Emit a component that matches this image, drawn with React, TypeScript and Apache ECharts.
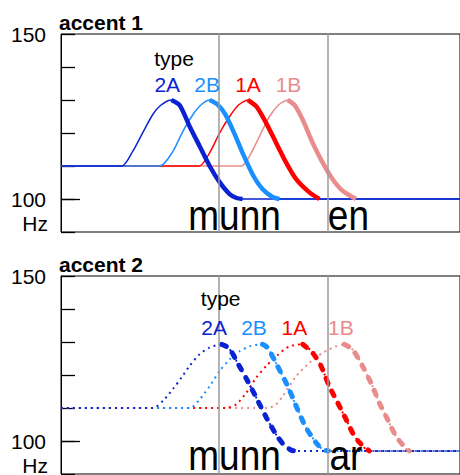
import React, { useEffect, useRef } from "react";
import * as echarts from "echarts";

// ---- data (x: time units from left edge of plot, y: Hz) ----
const types = ["2A", "2B", "1A", "1B"];
const boundaries = [158, 267];

const accent1_2A_rise = [[0, 110], [60.7, 110], [72, 114.5], [82, 120.1], [92, 125.6], [100, 128.4], [110.7, 130]];
const accent1_2A_fall = [[110.7, 130], [119, 128.4], [129, 122], [139, 116], [149, 110], [159, 105.1], [169, 101.5], [176, 100.3], [182, 100]];
const accent1_2B_rise = [[0, 110], [99, 110], [112.3, 114.5], [122.3, 120.6], [132.3, 125.6], [140, 128.4], [149, 130]];
const accent1_2B_fall = [[149, 130], [157, 128.6], [165, 125.5], [175, 119], [182, 114], [192, 107.5], [202, 103], [212, 100.6], [219, 100]];
const accent1_1A_rise = [[0, 110], [138.3, 110], [149, 114], [159, 120], [169, 125], [178, 128.5], [187.3, 130]];
const accent1_1A_fall = [[187.3, 130], [196, 128], [205.7, 123], [215.7, 117], [225.7, 111], [235.7, 106], [249, 102], [259, 100]];
const accent1_1B_rise = [[0, 110], [180.7, 110], [189, 113], [199, 119], [209, 125], [218, 128.5], [227.3, 130]];
const accent1_1B_fall = [[227.3, 130], [234, 128.5], [242.3, 124], [252.3, 117], [262.3, 111], [272.3, 106], [282.3, 102.5], [295.7, 100]];
const accent1_tail = [400, 100];

const accent2_2A_rise = [[0, 110], [92.3, 110], [102.3, 112.2], [112.3, 115.8], [120.7, 119.2], [129, 122.8], [139, 126.3], [149, 128.3], [161, 129.3]];
const accent2_2A_fall = [[161, 129.3], [166, 128.6], [171, 127], [176, 124.2], [186, 118.8], [196, 113], [206, 107], [216, 101.8], [223, 99], [231, 97.2], [236, 97]];
const accent2_2B_rise = [[0, 110], [129, 110], [139, 112.6], [149, 116.6], [159, 121.2], [169, 124.7], [179, 127.2], [189, 128.7], [202, 129.3]];
const accent2_2B_fall = [[202, 129.3], [207, 128.3], [215.7, 123.5], [227.3, 116.6], [235.7, 110.6], [245.7, 104], [255.7, 99.5], [262, 97.5], [268, 97]];
const accent2_1A_rise = [[0, 110], [165.7, 110], [175.7, 111.1], [185.7, 114.6], [195.7, 119.2], [205.7, 122.7], [217, 126], [229, 128.7], [242.3, 129.3]];
const accent2_1A_fall = [[242.3, 129.3], [252.3, 126.7], [260.7, 122.7], [269, 116.6], [277.3, 111.6], [285.7, 106.6], [294, 101.5], [300, 99.3], [309, 97]];
const accent2_1B_rise = [[0, 110], [207, 110], [215.7, 111.1], [222.3, 113.6], [235.7, 119.6], [249, 123.7], [262.3, 126.7], [275, 128.6], [284, 129.3]];
const accent2_1B_fall = [[284, 129.3], [292.3, 127.7], [302.3, 122.7], [312.3, 116.6], [319, 111.6], [327.3, 106.6], [335.7, 101.5], [343, 98.7], [349, 97]];
const accent2_tail = [400, 97];

// label positions (data coords)
const accent1TypeLabelX = [107, 147, 188, 228.6];
const accent1TypeLabelY = 134.4;
const accent1TypeTitle = [94, 142.5];
const accent2TypeLabelX = [154, 194, 234.4, 281.1];
const accent2TypeLabelY = 134.3;
const accent2TypeTitle = [140.7, 142.9];

const accent1Segments = ["munn", "en"];
const accent1SegmentX = [127.6, 267.5];
const accent1SegmentY = 95.1;
const accent2Segments = ["munn", "ar"];
const accent2SegmentX = [127.6, 269.2];
const accent2SegmentY = 95.7;

const yLabelValues = [100, 150];
const unitLabel = "Hz";
const unitLabelY = 92.5;

const COLORS: Record<string, string> = {
  "2A": "#0a22d2",
  "2B": "#1c8fff",
  "1A": "#ff0000",
  "1B": "#e88c8c",
};
const FONT = "'Liberation Sans', Arial, sans-serif";

const panels = [
  {
    title: "accent 1",
    top: 34,
    rise: { "2A": accent1_2A_rise, "2B": accent1_2B_rise, "1A": accent1_1A_rise, "1B": accent1_1B_rise },
    fall: { "2A": accent1_2A_fall, "2B": accent1_2B_fall, "1A": accent1_1A_fall, "1B": accent1_1B_fall },
    tail: accent1_tail,
    labelX: accent1TypeLabelX,
    labelY: accent1TypeLabelY,
    typeTitle: accent1TypeTitle,
    segs: accent1Segments,
    segX: accent1SegmentX,
    segY: accent1SegmentY,
    thin: { width: 1.5, type: "solid" as any },
    thick: { width: 4.5, type: "solid" as any },
  },
  {
    title: "accent 2",
    top: 276,
    rise: { "2A": accent2_2A_rise, "2B": accent2_2B_rise, "1A": accent2_1A_rise, "1B": accent2_1B_rise },
    fall: { "2A": accent2_2A_fall, "2B": accent2_2B_fall, "1A": accent2_1A_fall, "1B": accent2_1B_fall },
    tail: accent2_tail,
    labelX: accent2TypeLabelX,
    labelY: accent2TypeLabelY,
    typeTitle: accent2TypeTitle,
    segs: accent2Segments,
    segX: accent2SegmentX,
    segY: accent2SegmentY,
    thin: { width: 2, type: [2, 4] as any },
    thick: { width: 5, type: [5, 9] as any, cap: "round" },
  },
];

export default function App() {
  const ref = useRef<HTMLDivElement>(null);
  useEffect(() => {
    if (!ref.current) return;
    const chart = echarts.init(ref.current, null, { renderer: "svg" });
    const grids: any[] = [];
    const xAxes: any[] = [];
    const yAxes: any[] = [];
    const series: any[] = [];
    const titles: any[] = [];
    const order = ["1B", "1A", "2B", "2A"];

    panels.forEach((p, pi) => {
      grids.push({
        left: 61, top: p.top, width: 400, height: 198,
        show: true, borderColor: "#000", borderWidth: 1, backgroundColor: "transparent",
      });
      xAxes.push({
        gridIndex: pi, type: "value", min: 0, max: 400,
        axisLine: { show: false }, axisTick: { show: false }, axisLabel: { show: false }, splitLine: { show: false },
      });
      yAxes.push({
        gridIndex: pi, type: "value", min: 90, max: 150, interval: 10, position: "left",
        axisLine: { show: true, lineStyle: { color: "#000", width: 1 } },
        axisTick: { show: true, inside: true, length: 14, lineStyle: { color: "#000", width: 1.3 } },
        axisLabel: {
          color: "#000", fontSize: 21, fontFamily: FONT, margin: 15,
          formatter: (v: number) => (yLabelValues.includes(v) ? String(v) : ""),
        },
        splitLine: { show: false },
      });
      yAxes.push({
        gridIndex: pi, type: "value", min: 90, max: 150, interval: 10, position: "left",
        axisLine: { show: false },
        axisTick: { show: true, inside: true, length: 19, customValues: [100], lineStyle: { color: "#000", width: 1.3 } },
        axisLabel: { show: false },
        splitLine: { show: false },
      });
      const yi = pi * 2;
      titles.push({
        text: p.title, left: 59, top: p.top - 22, padding: 0,
        textStyle: { fontSize: 21, fontWeight: "bold", color: "#000", fontFamily: FONT },
      });

      order.forEach((t, k) => {
        const rise = (p.rise as any)[t];
        const fall = (p.fall as any)[t];
        series.push({
          type: "line", xAxisIndex: pi, yAxisIndex: yi, showSymbol: false, smooth: 0.25,
          data: [...rise, ...fall.slice(1), p.tail],
          lineStyle: { color: COLORS[t], width: p.thin.width, type: p.thin.type },
          silent: true, z: 2,
          markLine: k === 0 ? {
            silent: true, symbol: "none", label: { show: false },
            lineStyle: { color: "#9a9a9a", width: 1.5, type: "solid" },
            data: boundaries.map((b) => ({ xAxis: b })),
          } : undefined,
        });
      });
      order.forEach((t) => {
        const fall = (p.fall as any)[t];
        series.push({
          type: "line", xAxisIndex: pi, yAxisIndex: yi, showSymbol: false, smooth: 0.25,
          data: fall,
          lineStyle: { color: COLORS[t], width: p.thick.width, type: p.thick.type, cap: (p.thick as any).cap || "butt" },
          silent: true, z: 3,
        });
      });
      series.push({
        type: "scatter", xAxisIndex: pi, yAxisIndex: yi, symbolSize: 1, silent: true, z: 5,
        itemStyle: { color: "transparent", opacity: 1 },
        data: [
          {
            value: p.typeTitle,
            label: { show: true, position: [0, 0], align: "left", verticalAlign: "middle", formatter: "type", color: "#000", fontSize: 21, fontFamily: FONT, textBorderWidth: 0 },
          },
          ...types.map((t, i) => ({
            value: [p.labelX[i], p.labelY],
            label: { show: true, position: [0, 0], align: "center", verticalAlign: "middle", formatter: t, color: COLORS[t], fontSize: 21, fontFamily: FONT, textBorderWidth: 0 },
          })),
        ],
      });
    });

    chart.setOption({
      animation: false,
      backgroundColor: "#fff",
      title: titles,
      grid: grids,
      xAxis: xAxes,
      yAxis: yAxes,
      series,
    });

    // texts placed through the axes' scales
    const graphics: any[] = [];
    panels.forEach((p, pi) => {
      const hz = chart.convertToPixel({ gridIndex: pi } as any, [0, unitLabelY]) as number[];
      graphics.push({
        type: "text", x: 48, y: hz[1], z: 10,
        style: { text: unitLabel, fontSize: 21, fontFamily: FONT, fill: "#000", align: "right", verticalAlign: "middle", lineHeight: 18 },
      });
      p.segs.forEach((s, i) => {
        const pt = chart.convertToPixel({ gridIndex: pi } as any, [p.segX[i], p.segY]) as number[];
        graphics.push({
          type: "text", x: pt[0], y: pt[1], scaleY: 1.13, z: 10,
          style: { text: s, fontSize: 37, fontFamily: FONT, fill: "#000", align: "left", verticalAlign: "middle", lineHeight: 30 },
        });
      });
    });
    chart.setOption({ graphic: graphics });
    return () => chart.dispose();
  }, []);
  return <div ref={ref} style={{ position: "absolute", left: 0, top: 0, width: 460, height: 475 }} />;
}
